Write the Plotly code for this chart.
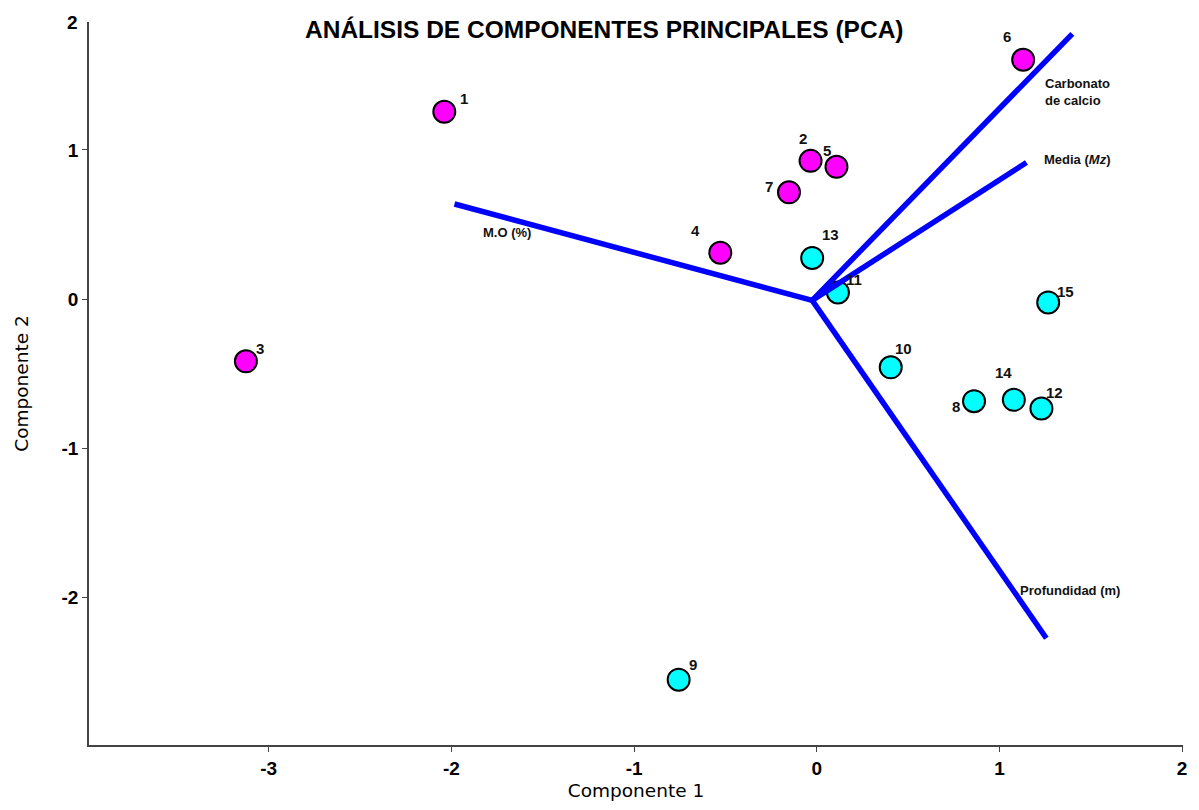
import plotly.graph_objects as go

# ---- data ----
sample_ids = ["1", "2", "3", "4", "5", "6", "7", "8", "9", "10", "11", "12", "13", "14", "15"]
pc1 = [-2.039, -0.034, -3.125, -0.528, 0.108, 1.130, -0.152, 0.861, -0.756, 0.405, 0.116, 1.230, -0.025, 1.079, 1.267]
pc2 = [1.256, 0.927, -0.417, 0.311, 0.887, 1.605, 0.716, -0.684, -2.551, -0.457, 0.045, -0.733, 0.276, -0.675, -0.022]
group = ["A"] * 7 + ["B"] * 8

variables = ["Carbonato<br>de calcio", "Media (<i>Mz</i>)", "Profundidad (m)", "M.O (%)"]
load_x = [1.399, 1.148, 1.257, -1.983]
load_y = [1.778, 0.916, -2.273, 0.638]
origin_x = -0.025
origin_y = -0.008
var_label_x = [1.241, 1.234, 1.103, -1.694]
var_label_y = [1.391, 0.933, -1.951, 0.445]

x_ticks = [-3, -2, -1, 0, 1, 2]
y_ticks = [-2, -1, 0, 1]

# ---- styles ----
group_colors = {"A": "#FF00FF", "B": "#00FFFF"}
# label offsets in pixels (dx right, dy down) relative to each marker
label_offsets = [(20, -13), (-8, -22), (14, -13), (-25, -22), (-9, -16), (-16, -23), (-20, -6),
                 (-18, 5), (14, -15), (13, -19), (16, -13), (13, -16), (18, -23), (-10, -27), (17, -11)]
var_anchor = ["left", "left", "left", "center"]

W, H = 1199, 810
ML, MR, MT, MB = 89, 12, 22, 60
plot_w = W - ML - MR
plot_h = H - MT - MB

fig = go.Figure()

fig.add_trace(go.Scatter(
    x=pc1, y=pc2, mode="markers",
    marker=dict(size=22, color=[group_colors[g] for g in group],
                line=dict(color="black", width=2)),
    hoverinfo="skip", showlegend=False))

for vx, vy in zip(load_x, load_y):
    fig.add_trace(go.Scatter(x=[origin_x, vx], y=[origin_y, vy], mode="lines",
                             line=dict(color="#0000FF", width=5.5),
                             hoverinfo="skip", showlegend=False))

annotations = []
for sid, x, y, (dx, dy) in zip(sample_ids, pc1, pc2, label_offsets):
    annotations.append(dict(x=x, y=y, xref="x", yref="y", text=sid, showarrow=False,
                            xshift=dx, yshift=-dy,
                            font=dict(family="Arial", size=15, color="#111111", weight="bold")))
for t, x, y, a in zip(variables, var_label_x, var_label_y, var_anchor):
    annotations.append(dict(x=x, y=y, xref="x", yref="y", text=t, showarrow=False,
                            xanchor=a, align="left",
                            font=dict(family="Arial", size=13, color="#111111", weight="bold")))
# top label of the vertical axis
annotations.append(dict(x=0, y=1.858, xref="paper", yref="y", text="2", showarrow=False,
                        xanchor="right", xshift=-9,
                        font=dict(family="Arial", size=19, color="black", weight="bold")))
# title
annotations.append(dict(x=(304 - ML) / plot_w, y=1 + (MT - 30) / plot_h, xref="paper", yref="paper",
                        text="ANÁLISIS DE COMPONENTES PRINCIPALES (PCA)",
                        showarrow=False, xanchor="left", yanchor="middle",
                        font=dict(family="Arial", size=24.5, color="black", weight="bold")))

fig.update_layout(
    width=W, height=H,
    margin=dict(l=ML, r=MR, t=MT, b=MB),
    paper_bgcolor="white", plot_bgcolor="white",
    annotations=annotations,
    xaxis=dict(range=[-3.984, 2.005], tickvals=x_ticks, ticktext=[str(v) for v in x_ticks],
               showgrid=False, zeroline=False, showline=True, linecolor="#444444", linewidth=1.5,
               ticks="outside", ticklen=5, tickcolor="#444444",
               tickfont=dict(family="Arial", size=19, color="black", weight="bold"),
               title=dict(text="Componente 1", font=dict(family="DejaVu Sans", size=18.5, color="black"),
                          standoff=7)),
    yaxis=dict(range=[-2.989, 1.858], tickvals=y_ticks, ticktext=[str(v) for v in y_ticks],
               showgrid=False, zeroline=False, showline=True, linecolor="#444444", linewidth=1.5,
               ticks="outside", ticklen=5, tickcolor="#444444",
               tickfont=dict(family="Arial", size=19, color="black", weight="bold"),
               title=dict(text="Componente 2", font=dict(family="DejaVu Sans", size=18.5, color="black"),
                          standoff=28)),
)

fig.write_html("out.html", config={"displayModeBar": False},
               post_script="document.body.style.margin='0';")
